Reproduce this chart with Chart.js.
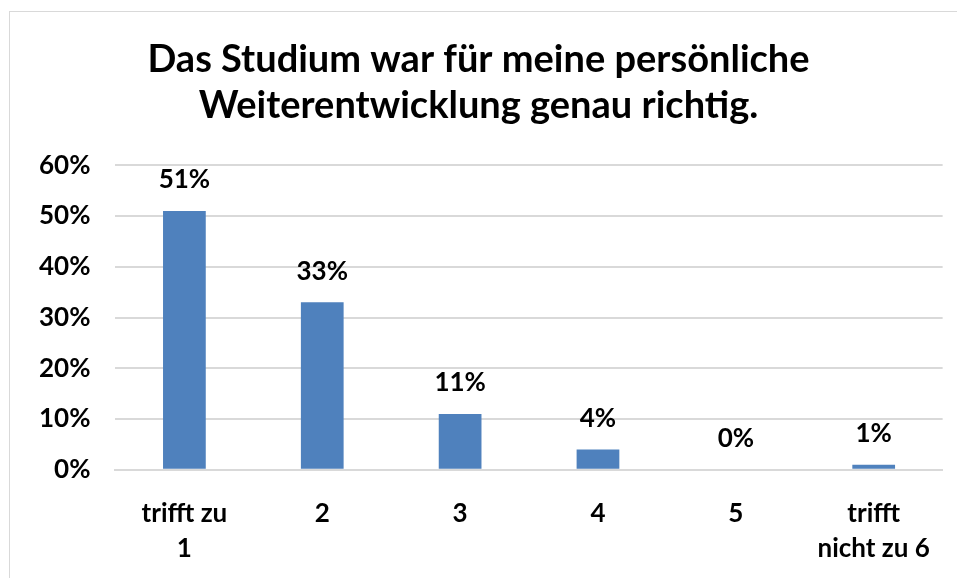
<!DOCTYPE html>
<html>
<head>
<meta charset="utf-8">
<script src="https://cdn.jsdelivr.net/npm/chart.js@4"></script>
<style>
  body { margin: 0; background: #fff; }
  #wrap { position: relative; width: 957px; height: 578px; overflow: hidden; }
  #frame { position: absolute; left: 9px; top: 11px; width: 960px; height: 600px; border: 1px solid #d9d9d9; }
  canvas { position: absolute; left: 0; top: 0; }
</style>
</head>
<body>
<div id="wrap">
  <div id="frame"></div>
  <canvas id="chart" width="957" height="606"></canvas>
</div>
<script>
// chart data
const categories = [["trifft zu", "1"], "2", "3", "4", "5", ["trifft", "nicht zu 6"]];
const values = [51, 33, 11, 4, 0, 1];
const titleLines = ["Das Studium war für meine persönliche", "Weiterentwicklung genau richtig."];

const fontFamily = "Lato, 'Noto Sans', sans-serif";

// draws the percent labels above each bar
const valueLabels = {
  id: "valueLabels",
  afterDatasetsDraw(chart) {
    const ctx = chart.ctx;
    const meta = chart.getDatasetMeta(0);
    ctx.save();
    ctx.font = "bold 26px " + fontFamily;
    ctx.fillStyle = "#000";
    ctx.textAlign = "center";
    ctx.textBaseline = "bottom";
    meta.data.forEach((bar, i) => {
      ctx.fillText(values[i] + "%", bar.x, bar.y - 18);
    });
    ctx.restore();
  }
};

const ctx = document.getElementById("chart").getContext("2d");
new Chart(ctx, {
  type: "bar",
  data: {
    labels: categories,
    datasets: [{
      data: values,
      backgroundColor: "#4f81bd",
      borderWidth: 0,
      categoryPercentage: 1,
      barPercentage: 0.31
    }]
  },
  options: {
    responsive: false,
    animation: false,
    layout: { padding: { left: 14, right: 14, top: 37, bottom: 14 } },
    plugins: {
      legend: { display: false },
      tooltip: { enabled: false },
      title: {
        display: true,
        text: titleLines,
        color: "#000",
        font: { family: fontFamily, size: 38, weight: "bold", lineHeight: 1.2 },
        padding: { top: 0, bottom: 37 }
      }
    },
    scales: {
      y: {
        min: 0,
        max: 60,
        ticks: {
          stepSize: 10,
          color: "#000",
          padding: 25,
          font: { family: fontFamily, size: 26, weight: "bold" },
          callback: v => v + "%"
        },
        grid: { color: "#d9d9d9", lineWidth: 2, drawTicks: false },
        border: { display: false }
      },
      x: {
        ticks: {
          color: "#000",
          padding: 26,
          maxRotation: 0,
          autoSkip: false,
          font: { family: fontFamily, size: 26, weight: "bold", lineHeight: 1.35 }
        },
        grid: { display: false, drawTicks: false },
        border: { color: "#d9d9d9", width: 2 }
      }
    }
  },
  plugins: [valueLabels]
});
</script>
</body>
</html>
